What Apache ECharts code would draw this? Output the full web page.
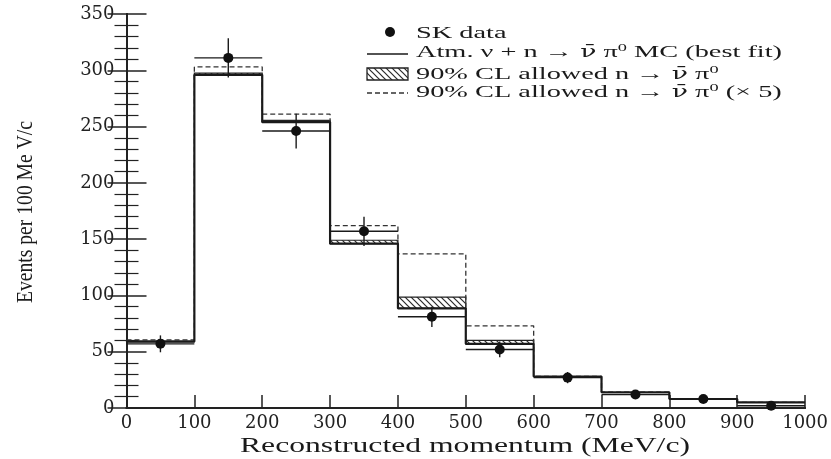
<!DOCTYPE html>
<html>
<head>
<meta charset="utf-8">
<script src="https://cdn.jsdelivr.net/npm/echarts@6/dist/echarts.min.js"></script>
<style>
html,body{margin:0;padding:0;background:#fff;}
#chart{width:831px;height:459px;}
</style>
</head>
<body>
<div id="chart"></div>
<script>
// ---- data ----
const binEdges    = [0, 100, 200, 300, 400, 500, 600, 700, 800, 900, 1000];
const skData      = [57, 311, 246, 157, 81, 52, 27, 12, 8, 2];
const skErr       = [7.5, 17.5, 15.5, 13, 9, 7, 5, 3.5, 3, 1.5];
const mcBestFit   = [59, 296, 254, 146, 88.5, 57, 28, 14, 8, 5];
const allowed90   = [59.5, 297.5, 255.5, 149, 98.5, 60, 28.3, 14, 8, 5];
const allowed90x5 = [60.5, 303, 261, 162, 137, 73, 28, 14, 8, 5];
const xTitle = 'Reconstructed momentum (MeV/c)';
const yTitle = 'Events per 100 Me V/c';
// legend labels as [style, text] segments (n = normal, b = nu-bar, s = superscript)
const legendLabels = [
  [['n', 'SK data']],
  [['n', 'Atm. \u03BD + n \u2192 '], ['b', '\u03BD\u0304'], ['n', ' \u03C0'], ['s', '0'], ['n', ' MC (best fit)']],
  [['n', '90% CL allowed n \u2192 '], ['b', '\u03BD\u0304'], ['n', ' \u03C0'], ['s', '0']],
  [['n', '90% CL allowed n \u2192 '], ['b', '\u03BD\u0304'], ['n', ' \u03C0'], ['s', '0'], ['n', ' (\u00D7 5)']]
];

// ---- helpers ----
function stepData(vals) {
  return binEdges.map((x, i) => [x, vals[Math.min(i, vals.length - 1)]]);
}
function makeHatch() {
  const c = document.createElement('canvas');
  c.width = 6; c.height = 6;
  const g = c.getContext('2d');
  g.strokeStyle = '#2a2a2a'; g.lineWidth = 1.2;
  g.beginPath();
  g.moveTo(-1, -1); g.lineTo(7, 7);
  g.moveTo(-4, 2); g.lineTo(4, 10);
  g.moveTo(2, -4); g.lineTo(10, 4);
  g.stroke();
  return c;
}
const hatch = makeHatch();
const measureCtx = document.createElement('canvas').getContext('2d');
function textWidth(t, font) { measureCtx.font = font; return measureCtx.measureText(t).width; }

const serif = 'Liberation Serif';
const segFonts = {
  n: '17px "Liberation Serif"',
  b: '16px "DejaVu Serif"',
  s: '11px "Liberation Serif"'
};
const rich = {
  n: {fontFamily: 'Liberation Serif', fontSize: 17, lineHeight: 20, fill: '#1a1a1a'},
  b: {fontFamily: 'DejaVu Serif', fontSize: 16, lineHeight: 20, fill: '#1a1a1a'},
  s: {fontFamily: 'Liberation Serif', fontSize: 11, lineHeight: 20, verticalAlign: 'top', fill: '#1a1a1a'}
};
function segWidth(segs) { return segs.reduce((w, s) => w + textWidth(s[1], segFonts[s[0]]), 0); }
function segText(segs) { return segs.map(s => '{' + s[0] + '|' + s[1] + '}').join(''); }
const legScale = 366 / segWidth(legendLabels[1]);
const xTitleFont = '22px "' + serif + '"';
const yTitleFont = '24px "' + serif + '"';
const xTitleScale = 450 / textWidth(xTitle, xTitleFont);
const yTitleScale = 182 / textWidth(yTitle, yTitleFont);

const hatchItems = binEdges.slice(0, -1).map((x, i) => [x, binEdges[i + 1], mcBestFit[i], allowed90[i]]);
const errItems = binEdges.slice(0, -1).map((x, i) => [x, binEdges[i + 1], skData[i], skErr[i]]);
const scatterItems = binEdges.slice(0, -1).map((x, i) => [(x + binEdges[i + 1]) / 2, skData[i]]);

const chart = echarts.init(document.getElementById('chart'), null, {renderer: 'canvas'});
const axisCol = '#222';
const labelStyle = {fontFamily: 'DejaVu Serif', fontSize: 18, color: '#222', formatter: v => String(v)};

const option = {
  animation: false,
  backgroundColor: '#fff',
  grid: {left: 126.5, right: 19.5, top: 14, bottom: 51},
  xAxis: [
    {type: 'value', min: 0, max: 1000, interval: 100, position: 'bottom',
     axisLine: {lineStyle: {color: axisCol, width: 2}},
     axisTick: {inside: true, length: 13, lineStyle: {color: axisCol, width: 1.5}},
     axisLabel: Object.assign({margin: 6}, labelStyle),
     splitLine: {show: false}},
    {type: 'value', min: 0, max: 1000, interval: 100, position: 'top',
     axisLine: {lineStyle: {color: axisCol, width: 2}},
     axisTick: {show: false}, axisLabel: {show: false}, splitLine: {show: false}}
  ],
  yAxis: [
    {type: 'value', min: 0, max: 350, interval: 50, position: 'left',
     axisLine: {show: true, lineStyle: {color: axisCol, width: 2}},
     axisTick: {show: true, inside: true, length: 20, lineStyle: {color: axisCol, width: 1.5}},
     minorTick: {show: true, splitNumber: 5, length: 12, lineStyle: {color: axisCol, width: 1.2}},
     axisLabel: Object.assign({margin: 12}, labelStyle),
     splitLine: {show: false}},
    {type: 'value', min: 0, max: 350, interval: 50, position: 'right',
     axisLine: {show: true, lineStyle: {color: axisCol, width: 2}},
     axisTick: {show: true, inside: true, length: 19, lineStyle: {color: axisCol, width: 1.5}},
     minorTick: {show: true, splitNumber: 5, length: 12, lineStyle: {color: axisCol, width: 1.2}},
     axisLabel: {show: false}, splitLine: {show: false}}
  ],
  series: [
    {type: 'custom', name: 'allowed90', z: 2, data: hatchItems,
     renderItem: function (params, api) {
       const lo = api.value(2), hi = api.value(3);
       if (hi - lo < 0.4) return null;
       const p0 = api.coord([api.value(0), hi]);
       const p1 = api.coord([api.value(1), lo]);
       return {type: 'rect', shape: {x: p0[0], y: p0[1], width: p1[0] - p0[0], height: p1[1] - p0[1]},
               style: {fill: {image: hatch, repeat: 'repeat'}, stroke: '#222', lineWidth: 1.2}};
     }},
    {type: 'line', name: 'allowed90x5', z: 3, step: 'end', data: stepData(allowed90x5), showSymbol: false,
     lineStyle: {color: '#333', width: 1.3, type: [5, 3]}},
    {type: 'line', name: 'mc', z: 4, step: 'end', data: stepData(mcBestFit), showSymbol: false,
     lineStyle: {color: '#1a1a1a', width: 2.2}},
    {type: 'custom', name: 'err', z: 5, data: errItems,
     renderItem: function (params, api) {
       const x0 = api.value(0), x1 = api.value(1), y = api.value(2), e = api.value(3);
       const xm = (x0 + x1) / 2;
       const a = api.coord([x0, y]), b = api.coord([x1, y]);
       const c = api.coord([xm, y + e]), d = api.coord([xm, y - e]);
       const st = {stroke: '#1a1a1a', lineWidth: 1.4};
       return {type: 'group', children: [
         {type: 'line', shape: {x1: a[0], y1: a[1], x2: b[0], y2: b[1]}, style: st},
         {type: 'line', shape: {x1: c[0], y1: c[1], x2: d[0], y2: d[1]}, style: st}
       ]};
     }},
    {type: 'scatter', name: 'SK data', z: 6, data: scatterItems, symbol: 'circle', symbolSize: 10,
     itemStyle: {color: '#111', opacity: 1}}
  ],
  graphic: [
    {type: 'circle', shape: {cx: 390, cy: 32, r: 5}, style: {fill: '#111'}},
    {type: 'line', shape: {x1: 367, y1: 54, x2: 408, y2: 54}, style: {stroke: '#1a1a1a', lineWidth: 1.5}},
    {type: 'rect', shape: {x: 367, y: 68, width: 41, height: 12},
     style: {fill: {image: hatch, repeat: 'repeat'}, stroke: '#222', lineWidth: 1.3}},
    {type: 'line', shape: {x1: 367, y1: 93, x2: 408, y2: 93}, style: {stroke: '#333', lineWidth: 1.3, lineDash: [5, 3]}},
    ...legendLabels.map((segs, i) => ({
      type: 'text', x: 416, y: [34, 53, 75, 93][i], scaleX: legScale,
      style: {text: segText(segs), rich: rich, fill: '#1a1a1a', textAlign: 'left', textVerticalAlign: 'middle'}
    })),
    {type: 'text', x: 465, y: 446, scaleX: xTitleScale,
     style: {text: xTitle, font: xTitleFont, fill: '#1a1a1a', textAlign: 'center', textVerticalAlign: 'middle'}},
    {type: 'text', x: 26, y: 212, rotation: Math.PI / 2, scaleX: yTitleScale,
     style: {text: yTitle, font: yTitleFont, fill: '#1a1a1a', textAlign: 'center', textVerticalAlign: 'middle'}}
  ]
};
chart.setOption(option);
</script>
</body>
</html>
